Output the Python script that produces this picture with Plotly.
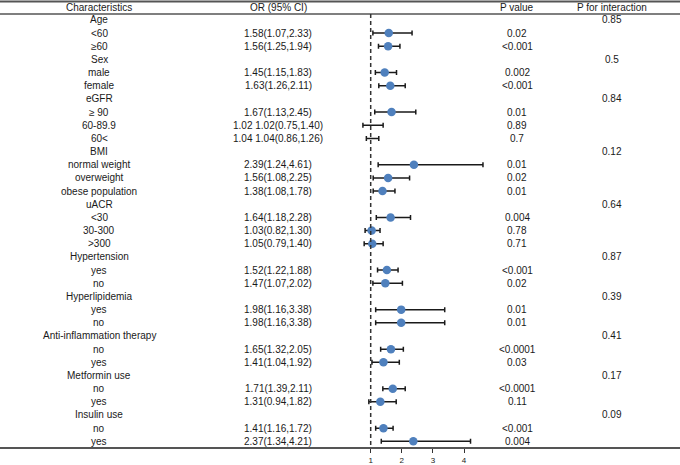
import plotly.graph_objects as go

# ---------------- data ----------------
labels = ["Age", "<60", "≥60", "Sex", "male", "female", "eGFR", "≥ 90", "60-89.9", "60<",
          "BMI", "normal weight", "overweight", "obese population", "uACR", "<30", "30-300", ">300",
          "Hypertension", "yes", "no", "Hyperlipidemia", "yes", "no",
          "Anti-inflammation therapy", "no", "yes", "Metformin use", "no", "yes",
          "Insulin use", "no", "yes"]
or_text = ["", "1.58(1.07,2.33)", "1.56(1.25,1.94)", "", "1.45(1.15,1.83)", "1.63(1.26,2.11)",
           "", "1.67(1.13,2.45)", "1.02 1.02(0.75,1.40)", "1.04 1.04(0.86,1.26)",
           "", "2.39(1.24,4.61)", "1.56(1.08,2.25)", "1.38(1.08,1.78)",
           "", "1.64(1.18,2.28)", "1.03(0.82,1.30)", "1.05(0.79,1.40)",
           "", "1.52(1.22,1.88)", "1.47(1.07,2.02)", "", "1.98(1.16,3.38)", "1.98(1.16,3.38)",
           "", "1.65(1.32,2.05)", "1.41(1.04,1.92)", "", "1.71(1.39,2.11)", "1.31(0.94,1.82)",
           "", "1.41(1.16,1.72)", "2.37(1.34,4.21)"]
or_vals = [None, 1.58, 1.56, None, 1.45, 1.63, None, 1.67, 1.02, 1.04,
           None, 2.39, 1.56, 1.38, None, 1.64, 1.03, 1.05,
           None, 1.52, 1.47, None, 1.98, 1.98,
           None, 1.65, 1.41, None, 1.71, 1.31, None, 1.41, 2.37]
# point estimates drawn as dots (the two eGFR rows with doubled text show no dot)
or_points = [None, 1.58, 1.56, None, 1.45, 1.63, None, 1.67, None, None,
             None, 2.39, 1.56, 1.38, None, 1.64, 1.03, 1.05,
             None, 1.52, 1.47, None, 1.98, 1.98,
             None, 1.65, 1.41, None, 1.71, 1.31, None, 1.41, 2.37]
ci_low = [None, 1.07, 1.25, None, 1.15, 1.26, None, 1.13, 0.75, 0.86,
          None, 1.24, 1.08, 1.08, None, 1.18, 0.82, 0.79,
          None, 1.22, 1.07, None, 1.16, 1.16,
          None, 1.32, 1.04, None, 1.39, 0.94, None, 1.16, 1.34]
ci_high = [None, 2.33, 1.94, None, 1.83, 2.11, None, 2.45, 1.40, 1.26,
           None, 4.61, 2.25, 1.78, None, 2.28, 1.30, 1.40,
           None, 1.88, 2.02, None, 3.38, 3.38,
           None, 2.05, 1.92, None, 2.11, 1.82, None, 1.72, 4.21]
p_values = ["", "0.02", "<0.001", "", "0.002", "<0.001", "", "0.01", "0.89", "0.7",
            "", "0.01", "0.02", "0.01", "", "0.004", "0.78", "0.71",
            "", "<0.001", "0.02", "", "0.01", "0.01",
            "", "<0.0001", "0.03", "", "<0.0001", "0.11", "", "<0.001", "0.004"]
p_inter = ["0.85", "", "", "0.5", "", "", "0.84", "", "", "",
           "0.12", "", "", "", "0.64", "", "", "",
           "0.87", "", "", "0.39", "", "",
           "0.41", "", "", "0.17", "", "", "0.09", "", ""]
headers = ["Characteristics", "OR (95% CI)", "P value", "P for interaction"]
tick_vals = [1, 2, 3, 4]

rows = list(range(len(labels)))

# ---------------- layout constants ----------------
W, H = 680, 465
FONT = "Liberation Sans, Arial, sans-serif"
TXT = "#1a1a1a"
col_x = [99 / W, 278 / W, 517 / W, 612 / W]
header_y = -0.943
top_line_y = -1.40
head_line_y = -0.45
y_range = [32.43, -1.508]
x_range = [1 - 370.7 / 31.1, 1 + (W - 370.7) / 31.1]

err_x, err_plus, err_minus, err_y = [], [], [], []
for i in rows:
    if or_vals[i] is not None:
        err_x.append(or_vals[i])
        err_y.append(i)
        err_plus.append(ci_high[i] - or_vals[i])
        err_minus.append(or_vals[i] - ci_low[i])

pt_x = [or_points[i] for i in rows if or_points[i] is not None]
pt_y = [i for i in rows if or_points[i] is not None]

fig = go.Figure()
fig.add_trace(go.Scatter(
    x=err_x, y=err_y, mode="markers",
    marker=dict(size=1, color="rgba(0,0,0,0)"),
    error_x=dict(type="data", symmetric=False, array=err_plus, arrayminus=err_minus,
                 color="#1a1a1a", thickness=1.5, width=2.5),
    hoverinfo="skip", showlegend=False))
fig.add_trace(go.Scatter(
    x=pt_x, y=pt_y, mode="markers",
    marker=dict(size=8.5, color="#4F80BD"),
    showlegend=False))

annotations = []
for j, h in enumerate(headers):
    annotations.append(dict(x=col_x[j], y=header_y, xref="paper", yref="y", text=h,
                            showarrow=False, xanchor="center", yanchor="middle",
                            font=dict(family=FONT, size=10, color=TXT)))
for i in rows:
    for j, t in enumerate([labels[i], or_text[i], p_values[i], p_inter[i]]):
        if t:
            annotations.append(dict(x=col_x[j], y=i, xref="paper", yref="y", text=t,
                                    showarrow=False, xanchor="center", yanchor="middle",
                                    font=dict(family=FONT, size=10, color=TXT)))

shapes = [
    dict(type="line", xref="paper", yref="y", x0=0, x1=1, y0=top_line_y, y1=top_line_y,
         line=dict(color="#555555", width=2)),
    dict(type="line", xref="paper", yref="y", x0=0, x1=1, y0=head_line_y, y1=head_line_y,
         line=dict(color="#555555", width=1.5)),
    dict(type="line", xref="x", yref="y", x0=1, x1=1, y0=head_line_y, y1=y_range[0],
         line=dict(color="#333333", width=1.5, dash="4px,3px")),
]

fig.update_layout(
    width=W, height=H,
    margin=dict(l=0, r=0, t=0, b=15),
    paper_bgcolor="white", plot_bgcolor="white",
    annotations=annotations, shapes=shapes,
    xaxis=dict(range=x_range, tickvals=tick_vals, showgrid=False, zeroline=False,
               showline=True, linecolor="#555555", linewidth=2,
               ticks="outside", ticklen=4, tickcolor="#333333", tickwidth=1,
               tickfont=dict(family=FONT, size=8, color=TXT), fixedrange=True),
    yaxis=dict(range=y_range, visible=False, showgrid=False, zeroline=False, fixedrange=True),
    showlegend=False,
)

fig.write_html("out.html", config={"displayModeBar": False},
               post_script="document.body.style.margin='0px';document.body.style.padding='0px';")
